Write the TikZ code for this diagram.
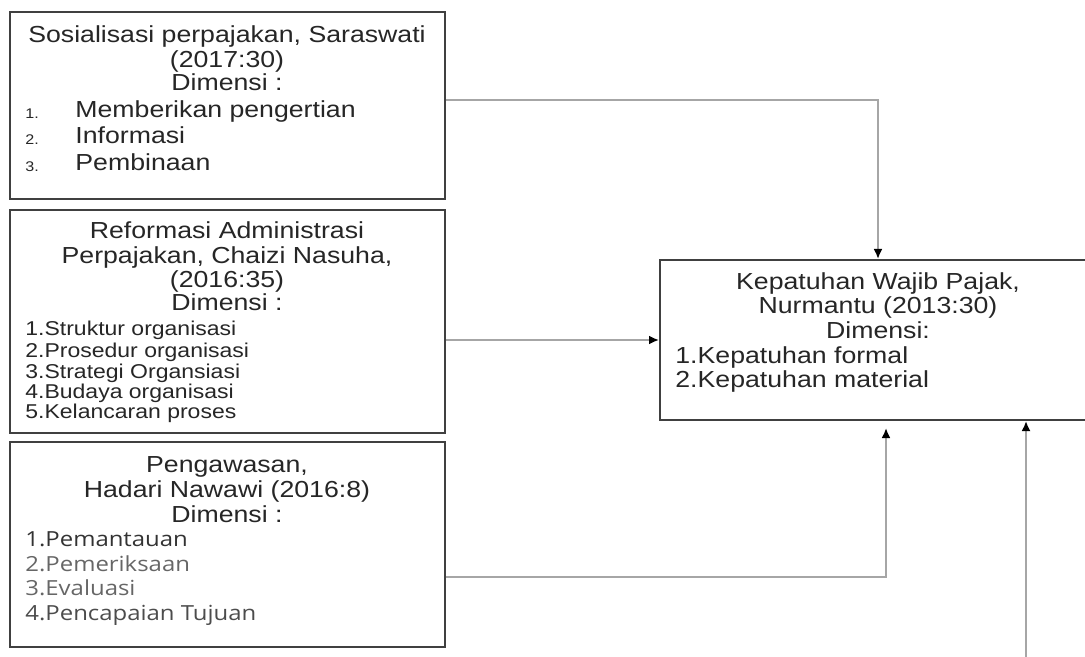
\documentclass[tikz,border=0pt]{standalone}
\usepackage{fontspec}
\setmainfont{Liberation Sans}[FakeStretch=1.15]
\newfontfamily\itemfont{Open Sans}[FakeStretch=1.15]
\usetikzlibrary{arrows.meta, positioning, calc}

\tikzset{
  box/.style={draw=black!75, line width=1pt, minimum width=217.5pt, inner sep=0pt},
  conn/.style={draw=black!35, line width=1pt, -{Latex[black, length=5pt, width=4.5pt]}},
  head/.style={font=\fontsize{11.6}{13}\selectfont, text=black!85, anchor=mid, inner sep=0pt},
  item/.style={head, anchor=mid west},
  smallitem/.style={font=\fontsize{10}{12}\selectfont, text=black!85, anchor=mid west, inner sep=0pt},
  openitem/.style={font=\itemfont\fontsize{10.4}{12}\selectfont, anchor=mid west, inner sep=0pt},
  num/.style={font=\fontsize{7}{8}\selectfont, text=black!85, anchor=mid west, inner sep=0pt}
}

\begin{document}
\begin{tikzpicture}[x=0.5pt, y=-0.5pt]
\useasboundingbox (0,0) rectangle (1085,657);

% Sosialisasi
\node[box, minimum height=93.5pt] (sos) at (227.5,105.5) {};
\node[head] (sos-a) at (227,37) {Sosialisasi perpajakan, Saraswati};
\node[head] (sos-b) at (227,62) {(2017:30)};
\node[head] (sos-c) at (227,85) {Dimensi :};
\node[num] (sos-n1) at (25,113) {1.};
\node[item] (sos-i1) at (75,112) {Memberikan pengertian};
\node[num] (sos-n2) at (25,139) {2.};
\node[item] (sos-i2) at (75,138) {Informasi};
\node[num] (sos-n3) at (25,166) {3.};
\node[item] (sos-i3) at (75,165) {Pembinaan};

% Reformasi administrasi
\node[box, minimum height=111.5pt] (ref) at (227.5,321.5) {};
\node[head] (ref-a) at (227,233) {Reformasi Administrasi};
\node[head] (ref-b) at (227,258) {Perpajakan, Chaizi Nasuha,};
\node[head] (ref-c) at (227,282) {(2016:35)};
\node[head] (ref-d) at (227,305) {Dimensi :};
\node[smallitem] (ref-i1) at (25,330) {1.Struktur organisasi};
\node[smallitem] (ref-i2) at (25,352) {2.Prosedur organisasi};
\node[smallitem] (ref-i3) at (25,373) {3.Strategi Organsiasi};
\node[smallitem] (ref-i4) at (25,393) {4.Budaya organisasi};
\node[smallitem] (ref-i5) at (25,413) {5.Kelancaran proses};

% Pengawasan
\node[box, minimum height=102.5pt] (peng) at (227.5,544.5) {};
\node[head] (peng-a) at (227,467) {Pengawasan,};
\node[head] (peng-b) at (227,492) {Hadari Nawawi (2016:8)};
\node[head] (peng-c) at (227,517) {Dimensi :};
\node[openitem, text=black!80] (peng-i1) at (25,541) {1.Pemantauan};
\node[openitem, text=black!60] (peng-i2) at (25,566) {2.Pemeriksaan};
\node[openitem, text=black!60] (peng-i3) at (25,590) {3.Evaluasi};
\node[openitem, text=black!70] (peng-i4) at (25,615) {4.Pencapaian Tujuan};

% Kepatuhan wajib pajak
\node[box, minimum width=218pt, minimum height=80pt] (kep) at (878,340) {};
\node[head] (kep-a) at (878,284) {Kepatuhan Wajib Pajak,};
\node[head] (kep-b) at (878,308) {Nurmantu (2013:30)};
\node[head] (kep-c) at (878,333) {Dimensi:};
\node[item] (kep-i1) at (675,358) {1.Kepatuhan formal};
\node[item] (kep-i2) at (675,382) {2.Kepatuhan material};

% connectors
\coordinate (src) at (1026,662);
\draw[conn] ([yshift=2.75pt]sos.east) -| (kep.north);
\draw[conn] (ref.east |- kep.west) -- (kep.west);
\draw[conn] ([yshift=-16.25pt]peng.east) -| ([xshift=4pt,yshift=-3.5pt]kep.south);
\draw[conn] (src) -- (src |- kep.south);
\end{tikzpicture}
\end{document}
